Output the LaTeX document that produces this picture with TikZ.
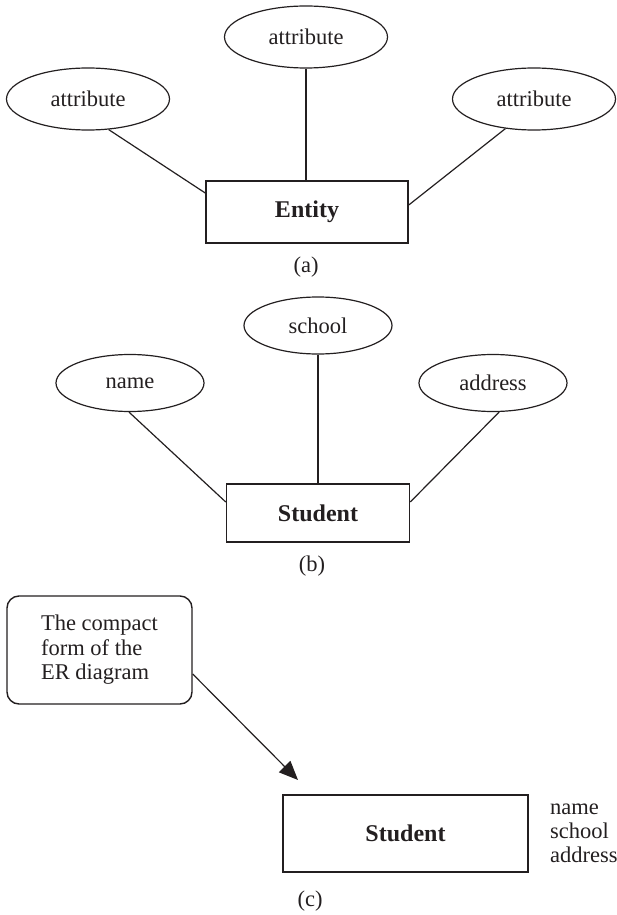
\documentclass[tikz,border=0pt]{standalone}
\usepackage{fontspec}
\setmainfont{Liberation Serif}
\usetikzlibrary{arrows.meta,shapes.geometric}
\definecolor{ink}{HTML}{231F20}
\begin{document}
\begin{tikzpicture}[x=1pt,y=-1pt,
  every node/.style={text=ink, font=\fontsize{22.5}{24.5}\selectfont},
  attrA/.style={draw=ink, line width=1.2pt, ellipse, inner sep=0pt,
                minimum width=163pt, minimum height=62pt},
  attrB/.style={draw=ink, line width=1.2pt, ellipse, inner sep=0pt,
                minimum width=148pt, minimum height=57pt},
  entitybox/.style={draw=ink, line width=1.5pt, rectangle, inner sep=0pt,
                font=\fontsize{24}{28}\selectfont\bfseries},
  notebox/.style={draw=ink, line width=1.4pt, rectangle, rounded corners=12pt,
                inner sep=0pt, align=left},
  link/.style={draw=ink, line width=1.2pt},
  pointer/.style={draw=ink, line width=1.2pt, -{Triangle[length=19pt,width=16pt]}}
]
\useasboundingbox (0,0) rectangle (617,915);

% (a) generic entity with three attributes
\node[attrA] (a1) at (88,99)   {attribute};
\node[attrA] (a2) at (306,37)  {attribute};
\node[attrA] (a3) at (534,99)  {attribute};
\node[entitybox, minimum width=202pt, minimum height=62pt] (ent) at (307,212) {Entity};
\draw[link] (a1.-56)  -- ([yshift=19pt]ent.west);
\draw[link] (a2.south) -- (ent.north -| a2.south);
\draw[link] (a3.-134) -- ([yshift=7pt]ent.east);
\node (capa) at (306,267) {(a)};

% (b) the Student entity
\node[attrB] (nm)  at (130,383)   {name};
\node[attrB] (sch) at (318,325.5) {school};
\node[attrB] (adr) at (493,383)   {address};
\node[entitybox, minimum width=183pt, minimum height=58pt] (stuB) at (318,513) {Student};
\draw[link] (nm.268)   -- ([yshift=11pt]stuB.west);
\draw[link] (sch.south) -- (stuB.north);
\draw[link] (adr.-78)  -- ([yshift=11pt]stuB.east);
\node (capb) at (312,566) {(b)};

% (c) compact form
\node[notebox, minimum width=185pt, minimum height=108pt] (note) at (99.5,650)
  {The compact\\form of the\\ER diagram};
\coordinate (tip) at (298,780);
\draw[pointer] ([yshift=-24pt]note.east) -- (tip);
\node[entitybox, minimum width=245pt, minimum height=77pt] (stuC) at (405.5,833.5) {Student};
\node[anchor=west, align=left, inner sep=0pt, font=\fontsize{22.5}{24}\selectfont]
  (fields) at (550,833) {name\\school\\address};
\node (capc) at (310,901) {(c)};
\end{tikzpicture}
\end{document}
